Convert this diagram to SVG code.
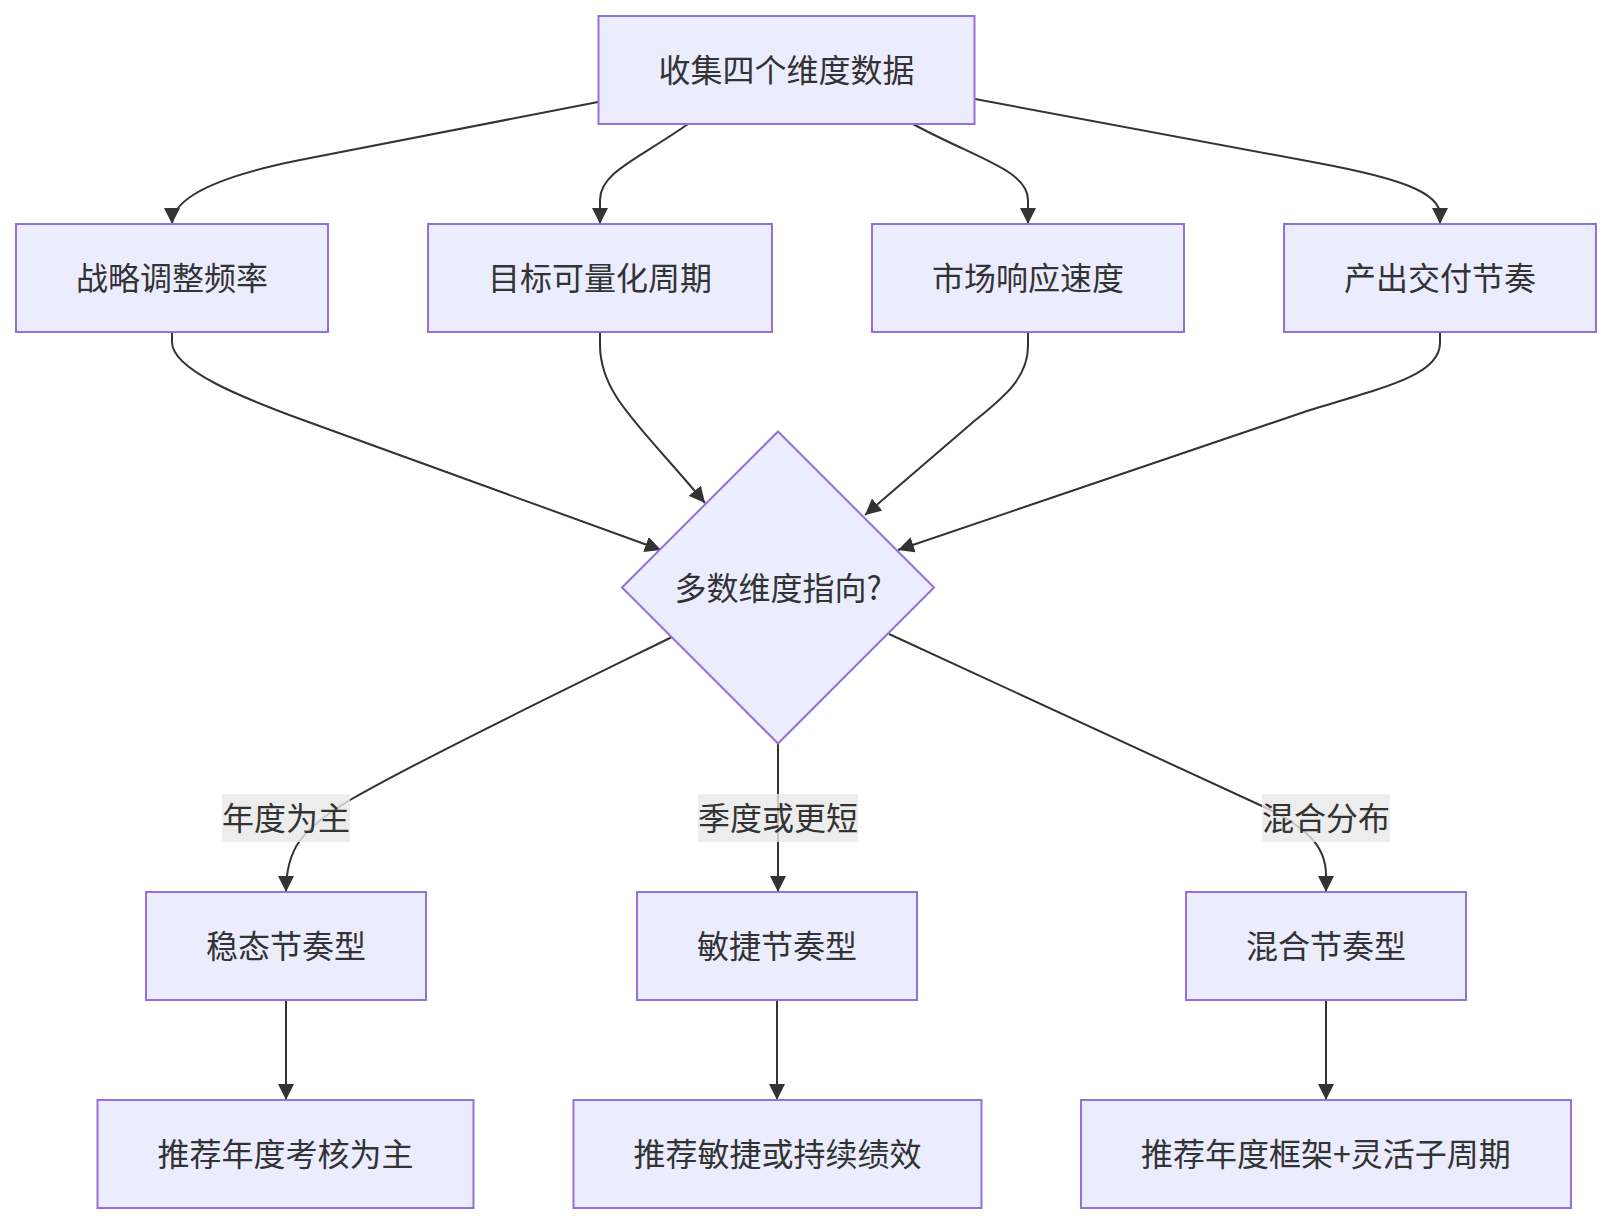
<svg xmlns="http://www.w3.org/2000/svg" width="1612" height="1223" viewBox="0 0 1612 1223">
<style>
.node rect, .node polygon { fill: #ECECFF; stroke: #9370DB; stroke-width: 2; }
.label { font-family: "Noto Sans CJK SC", "Liberation Sans", sans-serif; font-size: 32px; fill: #333333; text-anchor: middle; dominant-baseline: central; }
.edge { fill: none; stroke: #333333; stroke-width: 2; marker-end: url(#arrow); }
.elbg { fill: #e8e8e8; fill-opacity: 0.8; }
</style>
<defs>
<marker id="arrow" viewBox="0 0 10 10" refX="10" refY="5" markerUnits="userSpaceOnUse" markerWidth="16" markerHeight="16" orient="auto">
<path d="M0,0 L10,5 L0,10 z" fill="#333333"/>
</marker>
</defs>
<rect x="0" y="0" width="1612" height="1223" fill="#ffffff"/>
<g id="edges">
<path class="edge" d="M598,102 L300,160 C 240,172 172,192 172,224"/>
<path class="edge" d="M688,124 C 640,158 600,172 600,200 L600,224"/>
<path class="edge" d="M913,124 C 975,158 1028,170 1028,200 L1028,224"/>
<path class="edge" d="M975,99 L1318,163 C 1398,178 1440,192 1440,215 L1440,224"/>
<path class="edge" d="M172,332 L172,342 C 172,370 243,398 303,420 L661,550"/>
<path class="edge" d="M600,332 L600,345 C 600,395 640,425 705,503"/>
<path class="edge" d="M1028,332 L1028,346 C 1028,380 1000,400 972,423 L865,515"/>
<path class="edge" d="M1440,332 L1440,343 C 1440,374 1390,386 1310,410 L898,550"/>
<path class="edge" d="M672,637 C 560,692 420,760 350,800 C 300,830 286,850 286,892"/>
<path class="edge" d="M778,744 L778,892"/>
<path class="edge" d="M889,634 L1262,806 C 1305,826 1326,845 1326,875 L1326,892"/>
<path class="edge" d="M286,1000 L286,1100"/>
<path class="edge" d="M777,1000 L777,1100"/>
<path class="edge" d="M1326,1000 L1326,1100"/>
</g>
<g id="edge-labels">
<g id="el-annual"><rect class="elbg" x="222" y="794" width="128" height="48"/><text class="label" x="286" y="816">年度为主</text></g>
<g id="el-quarter"><rect class="elbg" x="698" y="794" width="160" height="48"/><text class="label" x="778" y="816">季度或更短</text></g>
<g id="el-mixed"><rect class="elbg" x="1262" y="794" width="128" height="48"/><text class="label" x="1326" y="816">混合分布</text></g>
</g>
<g id="n-collect" class="node"><rect x="598.5" y="16" width="376" height="108"/><text class="label" x="786.5" y="68">收集四个维度数据</text></g>
<g id="n-strategy" class="node"><rect x="16" y="224" width="312" height="108"/><text class="label" x="172" y="276">战略调整频率</text></g>
<g id="n-goal" class="node"><rect x="428" y="224" width="344" height="108"/><text class="label" x="600" y="276">目标可量化周期</text></g>
<g id="n-market" class="node"><rect x="872" y="224" width="312" height="108"/><text class="label" x="1028" y="276">市场响应速度</text></g>
<g id="n-output" class="node"><rect x="1284" y="224" width="312" height="108"/><text class="label" x="1440" y="276">产出交付节奏</text></g>
<g id="n-decision" class="node"><polygon points="778,431.5 934,587.5 778,743.5 622,587.5"/><text class="label" x="778" y="585.5">多数维度指向?</text></g>
<g id="n-steady" class="node"><rect x="146" y="892" width="280" height="108"/><text class="label" x="286" y="944">稳态节奏型</text></g>
<g id="n-agile" class="node"><rect x="637" y="892" width="280" height="108"/><text class="label" x="777" y="944">敏捷节奏型</text></g>
<g id="n-hybrid" class="node"><rect x="1186" y="892" width="280" height="108"/><text class="label" x="1326" y="944">混合节奏型</text></g>
<g id="n-rec-annual" class="node"><rect x="97.5" y="1100" width="376" height="108"/><text class="label" x="285.5" y="1152">推荐年度考核为主</text></g>
<g id="n-rec-agile" class="node"><rect x="573.5" y="1100" width="408" height="108"/><text class="label" x="777.5" y="1152">推荐敏捷或持续绩效</text></g>
<g id="n-rec-hybrid" class="node"><rect x="1081" y="1100" width="490" height="108"/><text class="label" x="1326" y="1152">推荐年度框架+灵活子周期</text></g>
</svg>
